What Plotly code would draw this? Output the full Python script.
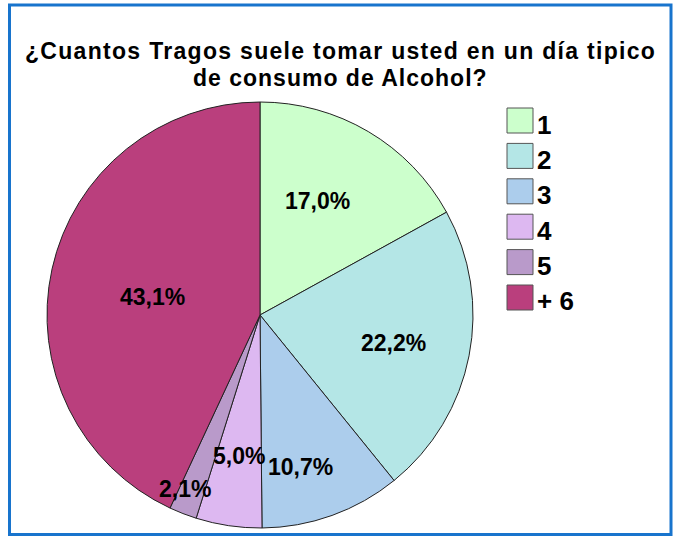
import math
import plotly.graph_objects as go

# ---- data ----
categories = ["1", "2", "3", "4", "5", "+ 6"]
percentages = [17.0, 22.2, 10.7, 5.0, 2.1, 43.1]
title_lines = ["¿Cuantos Tragos suele tomar usted en un día tipico",
               "de consumo de Alcohol?"]

# ---- styles ----
colors = ["#CCFFCC", "#B4E6E6", "#ACCDEC", "#DDB8F1", "#B99ACA", "#BA3F7D"]
label_radius = [0.60, 0.64, 0.74, 0.67, 0.89, 0.51]
label_angle_shift = [-4, 1, 5, 0, 2, -3]
title_spacing = [1.3, 1.0]

W, H = 685, 538
cx_px, cy_px, r_px = 260, 315, 213

fig = go.Figure()
fig.add_trace(go.Pie(
    labels=categories,
    values=percentages,
    sort=False,
    direction="clockwise",
    rotation=0,
    textinfo="none",
    hoverinfo="label+percent",
    showlegend=False,
    marker=dict(colors=colors, line=dict(color="#222222", width=1)),
    domain=dict(x=[(cx_px - r_px) / W, (cx_px + r_px) / W],
                y=[1 - (cy_px + r_px) / H, 1 - (cy_px - r_px) / H]),
))

annotations = []
# slice labels computed from the data
total = sum(percentages)
cum = 0.0
for i, v in enumerate(percentages):
    mid = (cum + v / 2) / total * 360 + label_angle_shift[i]
    cum += v
    a = math.radians(mid)
    px = cx_px + label_radius[i] * r_px * math.sin(a)
    py = cy_px - label_radius[i] * r_px * math.cos(a)
    annotations.append(dict(
        x=px / W, y=1 - py / H, xref="paper", yref="paper",
        text=f"{v:.1f}".replace(".", ",") + "%", showarrow=False,
        font=dict(family="Liberation Sans", size=23, color="black", weight="bold"),
        xanchor="center", yanchor="middle",
    ))

# title (two lines)
for line, yc, ls in zip(title_lines, [51, 78], title_spacing):
    annotations.append(dict(
        x=340 / W, y=1 - yc / H, xref="paper", yref="paper",
        text=f'<span style="letter-spacing:{ls}px">{line}</span>',
        showarrow=False, xanchor="center", yanchor="middle",
        font=dict(family="Liberation Sans", size=23, color="black", weight="bold"),
    ))

# legend (manual)
shapes = []
box_x0, box_y0, box_w, box_h, step = 507, 108, 26, 25, 35.4
for i, (lab, col) in enumerate(zip(categories, colors)):
    y0 = box_y0 + i * step
    shapes.append(dict(type="rect", xref="paper", yref="paper",
                       x0=box_x0 / W, x1=(box_x0 + box_w) / W,
                       y0=1 - (y0 + box_h) / H, y1=1 - y0 / H,
                       fillcolor=col, line=dict(color="#555555", width=1)))
    annotations.append(dict(
        x=(box_x0 + box_w + 2) / W, y=1 - (y0 + box_h / 2 + 4) / H,
        xref="paper", yref="paper", text=lab, showarrow=False,
        xanchor="left", yanchor="middle",
        font=dict(family="Liberation Sans", size=26, color="black", weight="bold"),
    ))

# outer blue frame
shapes.append(dict(type="rect", xref="paper", yref="paper",
                   x0=9.5 / W, x1=671 / W, y0=1 - 534.5 / H, y1=1 - 5 / H,
                   line=dict(color="#1874CD", width=3), fillcolor="rgba(0,0,0,0)",
                   layer="above"))

fig.update_layout(
    width=W, height=H,
    margin=dict(l=0, r=0, t=0, b=0),
    paper_bgcolor="white", plot_bgcolor="white",
    annotations=annotations, shapes=shapes,
)

fig.write_html("out.html",
               config={"displayModeBar": False},
               post_script="document.body.style.margin='0';document.body.style.overflow='hidden';")
